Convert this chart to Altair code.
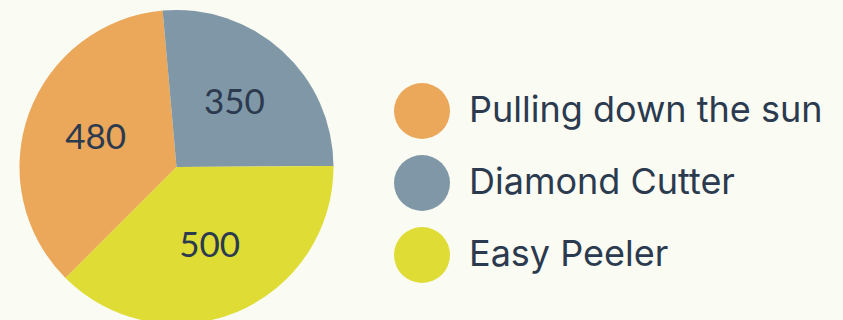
import altair as alt
import pandas as pd

categories = ["Pulling down the sun", "Diamond Cutter", "Easy Peeler"]
values = [480, 350, 500]
colors = ["#EBA75A", "#7F97A6", "#DEDC35"]

df = pd.DataFrame({"category": categories, "value": values, "order": [0, 1, 2]})

start = -2.356
theta_scale = alt.Scale(range=[start, start + 6.2832])

base = alt.Chart(df).encode(
    theta=alt.Theta("value:Q", stack=True, scale=theta_scale),
    order=alt.Order("order:Q"),
)

pie = base.mark_arc(outerRadius=157, x=176.5, y=167).encode(
    color=alt.Color(
        "category:N",
        sort=categories,
        scale=alt.Scale(domain=categories, range=colors),
        legend=alt.Legend(
            title=None,
            orient="none",
            legendX=394,
            legendY=83,
            symbolType="circle",
            symbolSize=3136,
            symbolStrokeWidth=0,
            symbolOpacity=1,
            labelFontSize=36,
            labelFont="Inter",
            labelColor="#2B3A4F",
            labelOffset=19,
            rowPadding=16,
            labelLimit=500,
        ),
    )
)

text = base.mark_text(
    radius=86, x=176.5, y=167, fontSize=35, font="Lato", color="#2B3A4F"
).encode(text=alt.Text("value:Q"))

chart = (
    alt.layer(pie, text)
    .properties(width=843, height=320, background="#FAFBF2", padding=0,
                autosize=alt.AutoSizeParams(type="none"))
    .configure_view(stroke=None)
)

chart.save("out.html", embed_options={"renderer": "svg", "actions": False})
